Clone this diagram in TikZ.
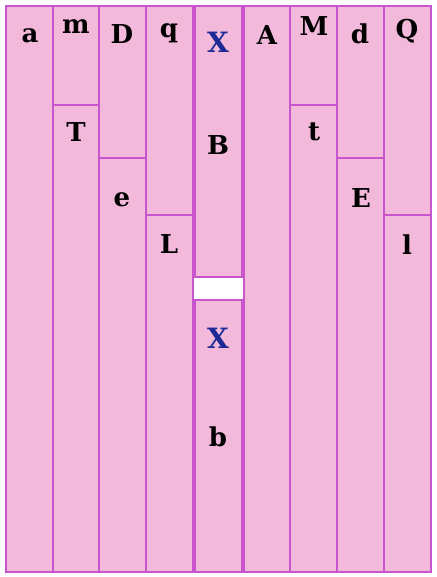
\documentclass[tikz,border=0pt]{standalone}
\usepackage{fontspec}
\newfontfamily\cellfont{DejaVu Serif Bold}
\definecolor{cellpink}{RGB}{242,185,218}
\definecolor{cellline}{RGB}{200,85,205}
\definecolor{xblue}{RGB}{28,42,150}
\tikzset{
  cell/.style={fill=cellpink,draw=cellline,line width=0.9pt},
  letter/.style={font=\cellfont\fontsize{19.5}{19.5}\selectfont,inner sep=0pt},
  xletter/.style={letter,font=\cellfont\fontsize{21}{21}\selectfont,text=xblue}
}
\begin{document}
\begin{tikzpicture}[x=0.75pt,y=-0.75pt]
  \useasboundingbox (0,0) rectangle (436,577);
  \begin{scope}
    % left block
    \draw[cell] (6,6) rectangle (53,572);
    \draw[cell] (53,6) rectangle (99,105);
    \draw[cell] (53,105) rectangle (99,572);
    \draw[cell] (99,6) rectangle (146,158);
    \draw[cell] (99,158) rectangle (146,572);
    \draw[cell] (146,6) rectangle (193,215);
    \draw[cell] (146,215) rectangle (193,572);

    \node[letter] (a) at (30,36) {a};
    \node[letter] (m) at (76,27) {m};
    \node[letter] (D) at (122,34) {D};
    \node[letter] (q) at (169,33) {q};
    \node[letter] (T) at (76,132) {T};
    \node[letter] (e) at (122,200) {e};
    \node[letter] (L) at (169,244) {L};
  \end{scope}
  \begin{scope}
    % middle column
    \draw[cell] (195,6) rectangle (242,277);
    \draw[cell] (195,300) rectangle (242,572);

    \node[xletter] (xup) at (218,42) {X};
    \node[letter] (B) at (218,145) {B};
    \node[xletter] (xdown) at (218,338) {X};
    \node[letter] (b) at (218,437) {b};
  \end{scope}
  \begin{scope}
    % right block
    \draw[cell] (244,6) rectangle (290,572);
    \draw[cell] (290,6) rectangle (337,105);
    \draw[cell] (290,105) rectangle (337,572);
    \draw[cell] (337,6) rectangle (384,158);
    \draw[cell] (337,158) rectangle (384,572);
    \draw[cell] (384,6) rectangle (431,215);
    \draw[cell] (384,215) rectangle (431,572);

    \node[letter] (A) at (267,35) {A};
    \node[letter] (M) at (314,26) {M};
    \node[letter] (d) at (360,34) {d};
    \node[letter] (Q) at (407,31) {Q};
    \node[letter] (t) at (314,132) {t};
    \node[letter] (E) at (361,198) {E};
    \node[letter] (l) at (407,245) {l};
  \end{scope}
\end{tikzpicture}
\end{document}
